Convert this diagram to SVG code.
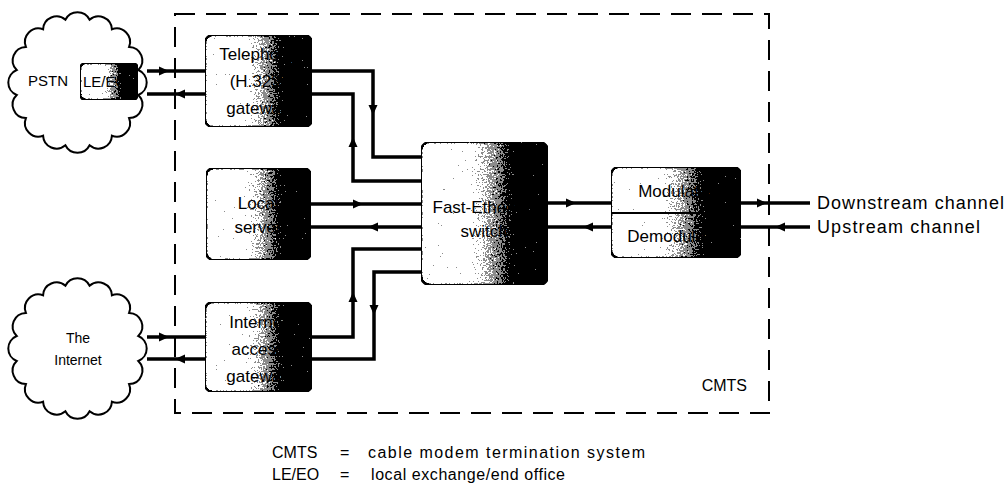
<svg xmlns="http://www.w3.org/2000/svg" xmlns:xlink="http://www.w3.org/1999/xlink" width="1008" height="486" viewBox="0 0 1008 486">
  <style>
    text { font-family: "Liberation Sans", Arial, sans-serif; fill: #000; }
    .lbl { font-size: 17px; text-anchor: middle; }
    .small { font-size: 14px; }
    .box { fill: url(#shade); stroke: #000; stroke-width: 2.5; filter: url(#grain); }
    .wire { fill: none; stroke: #000; stroke-width: 3.5; stroke-linejoin: miter; }
    .cloud { fill: #fff; stroke: #000; stroke-width: 2; }
    .frame { fill: none; stroke: #000; stroke-width: 2; stroke-dasharray: 20 11; }
  </style>
  <defs>
    <!-- white-to-black shading used by every equipment box -->
    <linearGradient id="shade" x1="0" y1="0" x2="1" y2="0">
      <stop offset="0" stop-color="#fff"/>
      <stop offset="0.36" stop-color="#fff"/>
      <stop offset="0.5" stop-color="#bbb"/>
      <stop offset="0.62" stop-color="#666"/>
      <stop offset="0.72" stop-color="#111"/>
      <stop offset="0.78" stop-color="#000"/>
      <stop offset="1" stop-color="#000"/>
    </linearGradient>
    <!-- stippled halftone look for the shaded boxes -->
    <filter id="grain" x="0" y="0" width="1" height="1" color-interpolation-filters="sRGB">
      <feTurbulence type="fractalNoise" baseFrequency="0.55" numOctaves="2" seed="7" result="noise"/>
      <feColorMatrix in="noise" type="matrix" values="1 0 0 0 0  1 0 0 0 0  1 0 0 0 0  0 0 0 0 1" result="grey"/>
      <feComposite in="SourceGraphic" in2="grey" operator="arithmetic" k1="0" k2="1" k3="1.1" k4="-0.55" result="mix"/>
      <feComponentTransfer in="mix" result="dots">
        <feFuncR type="discrete" tableValues="0 0.55 1"/>
        <feFuncG type="discrete" tableValues="0 0.55 1"/>
        <feFuncB type="discrete" tableValues="0 0.55 1"/>
      </feComponentTransfer>
      <feComposite in="dots" in2="SourceGraphic" operator="in"/>
    </filter>
    <!-- mid-line arrowhead, pointing along +x -->
    <path id="ah" d="M5,0 L-5,-4.5 L-5,4.5 Z" fill="#000"/>
    <!-- scalloped cloud outline centred at (77.5, 82.5) -->
    <path id="cloudShape" class="cloud" d="M89.6,19.7 A13.5,13.5 0 0 1 111.9,29.3 A13.5,13.5 0 0 1 129.1,46.9 A13.5,13.5 0 0 1 138.3,70 A13.5,13.5 0 0 1 138.3,95 A13.5,13.5 0 0 1 129.1,118.1 A13.5,13.5 0 0 1 111.9,135.7 A13.5,13.5 0 0 1 89.6,145.3 A13.5,13.5 0 0 1 65.4,145.3 A13.5,13.5 0 0 1 43.1,135.7 A13.5,13.5 0 0 1 25.9,118.1 A13.5,13.5 0 0 1 16.7,95 A13.5,13.5 0 0 1 16.7,70 A13.5,13.5 0 0 1 25.9,46.9 A13.5,13.5 0 0 1 43.1,29.3 A13.5,13.5 0 0 1 65.4,19.7 A13.5,13.5 0 0 1 89.6,19.7 Z"/>
  </defs>

  <rect width="1008" height="486" fill="#fff"/>

  <!-- CMTS boundary -->
  <g id="cmts">
    <rect class="frame" x="175" y="14" width="594" height="399"/>
    <text x="747" y="391" font-size="16" text-anchor="end">CMTS</text>
  </g>

  <!-- connectors -->
  <g id="connectors">
    <path class="wire" d="M147,71 H205"/>
    <path class="wire" d="M205,94 H147"/>
    <path class="wire" d="M312,71 H373 V157 H421"/>
    <path class="wire" d="M421,181 H353 V94 H312"/>
    <path class="wire" d="M311,204 H421"/>
    <path class="wire" d="M421,227 H311"/>
    <path class="wire" d="M312,337 H353 V249 H421"/>
    <path class="wire" d="M421,272 H374 V359 H312"/>
    <path class="wire" d="M147,337 H205"/>
    <path class="wire" d="M205,359 H147"/>
    <path class="wire" d="M548,203 H611"/>
    <path class="wire" d="M611,227 H548"/>
    <path class="wire" d="M741,203 H810"/>
    <path class="wire" d="M810,227 H741"/>

    <use href="#ah" transform="translate(164,71)"/>
    <use href="#ah" transform="translate(180,94) rotate(180)"/>
    <use href="#ah" transform="translate(373,110) rotate(90)"/>
    <use href="#ah" transform="translate(353,142) rotate(-90)"/>
    <use href="#ah" transform="translate(358,204)"/>
    <use href="#ah" transform="translate(373,227) rotate(180)"/>
    <use href="#ah" transform="translate(353,297) rotate(-90)"/>
    <use href="#ah" transform="translate(374,310) rotate(90)"/>
    <use href="#ah" transform="translate(164,337)"/>
    <use href="#ah" transform="translate(180,359) rotate(180)"/>
    <use href="#ah" transform="translate(571,203)"/>
    <use href="#ah" transform="translate(588,227) rotate(180)"/>
    <use href="#ah" transform="translate(762,203)"/>
    <use href="#ah" transform="translate(780,227) rotate(180)"/>
  </g>

  <!-- public telephone network with its local exchange -->
  <g id="pstn">
    <use href="#cloudShape"/>
    <text x="28" y="86" font-size="15">PSTN</text>
  </g>
  <g id="le-eo">
    <rect class="box" x="80" y="63" width="58" height="37" rx="6"/>
    <text x="83" y="87" font-size="15">LE/EO</text>
  </g>

  <!-- the Internet -->
  <g id="internet">
    <use href="#cloudShape" transform="translate(0,266)"/>
    <text class="small" x="78" y="343" text-anchor="middle">The</text>
    <text class="small" x="78" y="365" text-anchor="middle">Internet</text>
  </g>

  <g id="telephony-gateway">
    <rect class="box" x="205" y="35" width="107" height="92" rx="8"/>
    <text class="lbl" x="258" y="60">Telephony</text>
    <text class="lbl" x="258" y="87">(H.323)</text>
    <text class="lbl" x="258" y="114">gateway</text>
  </g>

  <g id="local-server">
    <rect class="box" x="206" y="168" width="105" height="92" rx="8"/>
    <text class="lbl" x="258" y="209">Local</text>
    <text class="lbl" x="258" y="233">server</text>
  </g>

  <g id="internet-gateway">
    <rect class="box" x="205" y="302" width="107" height="90" rx="8"/>
    <text class="lbl" x="258" y="328">Internet</text>
    <text class="lbl" x="258" y="355">access</text>
    <text class="lbl" x="258" y="382">gateway</text>
  </g>

  <g id="switch">
    <rect class="box" x="421" y="142" width="127" height="143" rx="9"/>
    <text class="lbl" x="484" y="213" font-size="18">Fast-Ethernet</text>
    <text class="lbl" x="484" y="237" font-size="18">switch</text>
  </g>

  <g id="modem">
    <rect class="box" x="611" y="167" width="130" height="91" rx="8"/>
    <line x1="611" y1="213" x2="741" y2="213" stroke="#000" stroke-width="2"/>
    <text class="lbl" x="676" y="197">Modulator</text>
    <text class="lbl" x="676" y="242">Demodulator</text>
  </g>

  <g id="channels">
    <text x="817" y="209" font-size="18" textLength="187">Downstream channel</text>
    <text x="817" y="233" font-size="18" textLength="163">Upstream channel</text>
  </g>

  <g id="legend" font-size="16">
    <text x="272" y="458">CMTS</text>
    <text x="340" y="458">=</text>
    <text x="368" y="458" textLength="277">cable modem termination system</text>
    <text x="272" y="480">LE/EO</text>
    <text x="340" y="480">=</text>
    <text x="371" y="480" textLength="194">local exchange/end office</text>
  </g>
</svg>
